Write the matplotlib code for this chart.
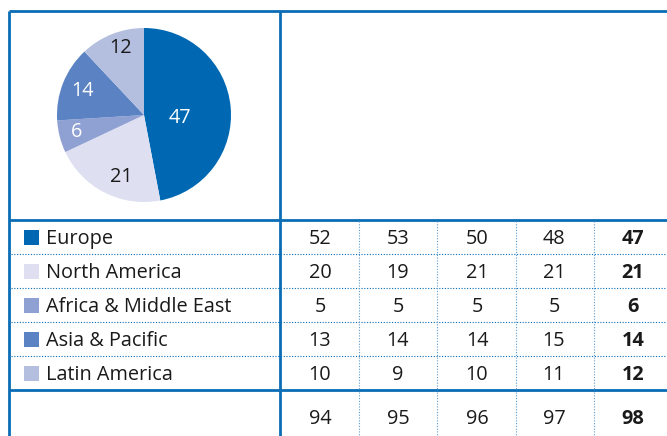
import numpy as np
import matplotlib
matplotlib.use("Agg")
import matplotlib.pyplot as plt
from matplotlib.patches import Rectangle

plt.rcParams['font.family'] = ['Open Sans', 'DejaVu Sans']

regions = ["Europe", "North America", "Africa & Middle East", "Asia & Pacific", "Latin America"]
colors = ["#0068b3", "#dee0f1", "#8fa0d3", "#5b82c3", "#b4bfe0"]
share_pie = [47, 21, 6, 14, 12]
col1 = [52, 20, 5, 13, 10]
col2 = [53, 19, 5, 14, 9]
col3 = [50, 21, 5, 14, 10]
col4 = [48, 21, 5, 15, 11]
col5 = [47, 21, 6, 14, 12]
totals = [94, 95, 96, 97, 98]
label_colors = ["white", "#1a1a1a", "white", "white", "#1a1a1a"]
label_dist = [0.42, 0.76, 0.80, 0.76, 0.82]
label_shift = [-10, 7, 0, 0, -2]

W, H = 667, 436
fig = plt.figure(figsize=(W / 100, H / 100), dpi=100)
ax = fig.add_axes([0, 0, 1, 1])
ax.set_xlim(0, W)
ax.set_ylim(H, 0)
ax.axis('off')

blue = "#0a6db5"
txt = "#1a1a1a"
fs = 14.3
bl = 7.2  # baseline offset from row centre (px)

# frame lines
ax.plot([8.5, W], [11.5, 11.5], color=blue, lw=2.0, solid_capstyle='butt')
ax.plot([8.5, 8.5], [11.5, H], color=blue, lw=2.0, solid_capstyle='butt')
ax.plot([280, 280], [11.5, H], color=blue, lw=2.0, solid_capstyle='butt')
ax.plot([8.5, W], [219.5, 219.5], color=blue, lw=2.0, solid_capstyle='butt')
ax.plot([8.5, W], [390, 390], color=blue, lw=2.0, solid_capstyle='butt')

row_y = [237, 271, 305, 339, 373]
total_y = 417
sep_y = [254, 288, 322, 356]
for y in sep_y:
    ax.plot([11, W], [y, y], color=blue, lw=0.8, ls=(0, (1, 1.5)))

col_x = [320, 398, 477, 554, 633]
vsep_x = [359, 437, 516, 594]
for x in vsep_x:
    ax.plot([x, x], [221, 388.5], color="#5a9bd0", lw=0.8, ls=(0, (1, 1.5)))
    ax.plot([x, x], [391.5, H], color="#5a9bd0", lw=0.8, ls=(0, (1, 1.5)))

cols = [col1, col2, col3, col4, col5]
for i, name in enumerate(regions):
    y = row_y[i]
    ax.add_patch(Rectangle((24, y - 7.5), 15, 15, color=colors[i], lw=0))
    ax.text(46, y + bl, name, fontsize=fs, color=txt, va='baseline', ha='left')
    for j, c in enumerate(cols):
        ax.text(col_x[j], y + bl, str(c[i]), fontsize=fs, color=txt, va='baseline', ha='center',
                fontweight='bold' if j == 4 else 'normal')
for j, t in enumerate(totals):
    ax.text(col_x[j], total_y + bl, str(t), fontsize=fs, color=txt, va='baseline', ha='center',
            fontweight='bold' if j == 4 else 'normal')

# pie
cx, cy, r = 144, 115, 87
pax = fig.add_axes([(cx - r) / W, (H - cy - r) / H, 2 * r / W, 2 * r / H])
wedges, _ = pax.pie(share_pie, colors=colors, startangle=90, counterclock=False,
                    radius=1, wedgeprops=dict(linewidth=0))
pax.set_xlim(-1, 1)
pax.set_ylim(-1, 1)
pax.set_aspect('auto')
pax.axis('off')
for w, v, lc, d, s in zip(wedges, share_pie, label_colors, label_dist, label_shift):
    ang = np.deg2rad((w.theta1 + w.theta2) / 2 + s)
    pax.text(d * np.cos(ang), d * np.sin(ang), str(v), fontsize=fs, color=lc,
             ha='center', va='center')

fig.savefig("out.png", dpi=100)
